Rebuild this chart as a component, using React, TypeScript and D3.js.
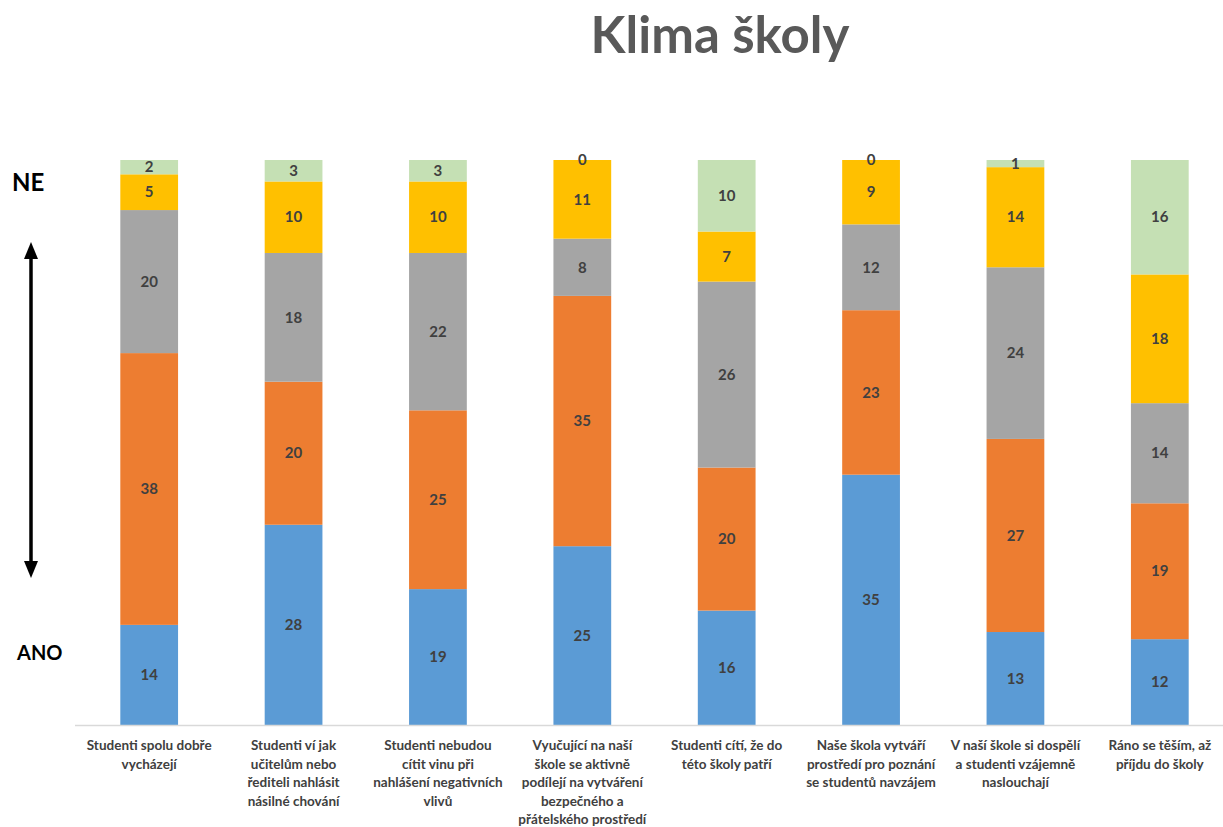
import * as React from "react";
import * as d3 from "d3";

const categories = [
  ["Studenti spolu dobře", "vycházejí"],
  ["Studenti ví jak", "učitelům nebo", "řediteli nahlásit", "násilné chování"],
  ["Studenti nebudou", "cítit vinu při", "nahlášení negativních", "vlivů"],
  ["Vyučující na naší", "škole se aktivně", "podílejí na vytváření", "bezpečného a", "přátelského prostředí"],
  ["Studenti cítí, že do", "této školy patří"],
  ["Naše škola vytváří", "prostředí pro poznání", "se studentů navzájem"],
  ["V naší škole si dospělí", "a studenti vzájemně", "naslouchají"],
  ["Ráno se těším, až", "příjdu do školy"],
];

// bottom (ANO) to top (NE)
const level1 = [14, 28, 19, 25, 16, 35, 13, 12];
const level2 = [38, 20, 25, 35, 20, 23, 27, 19];
const level3 = [20, 18, 22, 8, 26, 12, 24, 14];
const level4 = [5, 10, 10, 11, 7, 9, 14, 18];
const level5 = [2, 3, 3, 0, 10, 0, 1, 16];

const seriesKeys = ["l1", "l2", "l3", "l4", "l5"];
const colors = ["#5B9BD5", "#ED7D31", "#A5A5A5", "#FFC000", "#C5E0B4"];

const W = 1223;
const H = 827;
const font = "Lato, 'Open Sans', sans-serif";

export default function App() {
  const rows = categories.map((c, i) => ({
    idx: i,
    l1: level1[i],
    l2: level2[i],
    l3: level3[i],
    l4: level4[i],
    l5: level5[i],
  }));
  const stack = d3.stack<any>().keys(seriesKeys)(rows);

  const x = d3
    .scaleBand<number>()
    .domain(d3.range(categories.length))
    .range([77, 1232])
    .paddingInner(0.6)
    .paddingOuter(0.3);
  const total = d3.max(rows, (r) => r.l1 + r.l2 + r.l3 + r.l4 + r.l5) as number;
  const y = d3.scaleLinear().domain([0, total]).range([725, 160]);

  return (
    <svg width={W} height={H} style={{ position: "absolute", left: 0, top: 0 }}>
      <rect width={W} height={H} fill="#fff" />
      <text x={720} y={53} textAnchor="middle" fontFamily={font} fontWeight={700} fontSize={51} fill="#595959">
        Klima školy
      </text>

      {stack.map((s, si) => (
        <g key={s.key} fill={colors[si]}>
          {s.map((d, i) => (
            <rect key={i} x={x(i)} y={y(d[1])} width={x.bandwidth()} height={y(d[0]) - y(d[1])} />
          ))}
        </g>
      ))}

      {stack.map((s, si) => (
        <g key={"t" + s.key}>
          {s.map((d, i) => (
            <text
              key={i}
              x={(x(i) as number) + x.bandwidth() / 2}
              y={(y(d[0]) + y(d[1])) / 2}
              dy="0.35em"
              textAnchor="middle"
              fontFamily={font}
              fontWeight={700}
              fontSize={15}
              fill="#404040"
            >
              {d[1] - d[0]}
            </text>
          ))}
        </g>
      ))}

      <line x1={75} x2={1223} y1={725.5} y2={725.5} stroke="#D9D9D9" strokeWidth={1.5} />

      {categories.map((lines, i) => (
        <text
          key={i}
          x={(x(i) as number) + x.bandwidth() / 2}
          y={750}
          textAnchor="middle"
          fontFamily={font}
          fontWeight={700}
          fontSize={13.5}
          fill="#404040"
        >
          {lines.map((ln, j) => (
            <tspan key={j} x={(x(i) as number) + x.bandwidth() / 2} dy={j === 0 ? 0 : 18.6}>
              {ln}
            </tspan>
          ))}
        </text>
      ))}

      <text x={12} y={191} fontFamily={font} fontWeight={700} fontSize={24} fill="#000">NE</text>
      <text x={17} y={660} fontFamily={font} fontWeight={700} fontSize={20} fill="#000">ANO</text>

      <line x1={31} x2={31} y1={254} y2={566} stroke="#000" strokeWidth={3.5} />
      <path d="M31,242 L24,259 L38,259 Z" fill="#000" />
      <path d="M31,578 L24,561 L38,561 Z" fill="#000" />
    </svg>
  );
}
